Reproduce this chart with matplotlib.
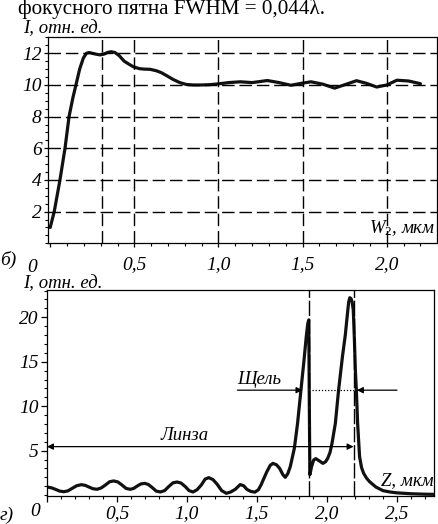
import matplotlib
matplotlib.use('Agg')
import matplotlib.pyplot as plt
from matplotlib.ticker import MultipleLocator

# данные: верхний график (б)
w2 = [0.0, 0.024, 0.058, 0.088, 0.112, 0.135, 0.153, 0.175, 0.197, 0.215,
      0.232, 0.25, 0.27, 0.296, 0.32, 0.34, 0.361, 0.385, 0.41, 0.44,
      0.47, 0.494, 0.53, 0.56, 0.593, 0.63, 0.66, 0.69, 0.73, 0.77,
      0.81, 0.85, 0.9, 0.95, 1.0, 1.06, 1.13, 1.2, 1.29, 1.36,
      1.43, 1.49, 1.55, 1.62, 1.69, 1.76, 1.82, 1.88, 1.94, 2.0,
      2.06, 2.13, 2.2]
i_w2 = [1.0, 2.0, 4.0, 6.0, 8.0, 9.2, 10.0, 11.0, 11.7, 12.0,
        12.05, 12.0, 11.95, 11.9, 11.95, 12.05, 12.1, 12.05, 11.85, 11.5,
        11.3, 11.15, 11.03, 11.0, 10.99, 10.9, 10.78, 10.6, 10.35, 10.15,
        10.03, 10.0, 10.0, 10.02, 10.07, 10.15, 10.2, 10.15, 10.28, 10.15,
        9.98, 10.1, 10.2, 10.05, 9.8, 10.05, 10.27, 10.1, 9.87, 10.0,
        10.3, 10.25, 10.08]

# данные: нижний график (г)
z = [0.0, 0.012, 0.035, 0.06, 0.09, 0.119, 0.149, 0.179, 0.212, 0.245,
     0.272, 0.298, 0.327, 0.357, 0.387, 0.417, 0.447, 0.476, 0.506, 0.536,
     0.565, 0.595, 0.619, 0.643, 0.67, 0.697, 0.723, 0.75, 0.78, 0.81,
     0.84, 0.869, 0.9, 0.929, 0.958, 0.988, 1.015, 1.043, 1.072, 1.102,
     1.13, 1.155, 1.185, 1.214, 1.248, 1.281, 1.313, 1.345, 1.38, 1.405,
     1.428, 1.455, 1.485, 1.51, 1.529, 1.55, 1.571, 1.595, 1.614, 1.64,
     1.662, 1.685, 1.702, 1.72, 1.738, 1.752, 1.767, 1.79, 1.814, 1.835,
     1.852, 1.863, 1.87, 1.874, 1.878, 1.89, 1.905, 1.92, 1.945, 1.971,
     1.99, 2.005, 2.022, 2.036, 2.06, 2.083, 2.11, 2.131, 2.145, 2.155,
     2.163, 2.172, 2.18, 2.188, 2.196, 2.203, 2.21, 2.219, 2.233, 2.247,
     2.262, 2.283, 2.305, 2.35, 2.4, 2.45, 2.5, 2.6, 2.7, 2.77]
i_z = [0.9, 0.88, 0.8, 0.65, 0.45, 0.38, 0.47, 0.75, 1.05, 1.17,
       1.1, 0.92, 0.72, 0.65, 0.8, 1.13, 1.5, 1.59, 1.48, 1.13,
       0.75, 0.65, 0.75, 1.0, 1.25, 1.32, 1.2, 0.87, 0.45, 0.35,
       0.5, 0.95, 1.38, 1.47, 1.35, 0.95, 0.5, 0.35, 0.6, 1.13,
       1.8, 1.96, 1.75, 1.25, 0.5, 0.2, 0.35, 0.65, 1.18, 1.05,
       0.64, 0.42, 0.33, 0.6, 1.14, 1.9, 2.64, 3.35, 3.57, 3.4,
       3.0, 2.3, 2.0, 2.4, 3.2, 4.2, 5.26, 8.07, 11.8, 15.0,
       17.8, 19.3, 19.7, 10.0, 2.3, 3.2, 3.95, 4.1, 3.85, 3.57,
       3.75, 4.12, 4.8, 5.82, 8.07, 11.8, 15.5, 18.0, 20.2, 21.7,
       22.2, 22.1, 21.7, 20.8, 17.5, 14.0, 11.8, 8.07, 4.32, 3.1,
       2.45, 1.9, 1.5, 0.9, 0.5, 0.35, 0.25, 0.15, 0.1, 0.08]

w2_ticks = [0, 0.5, 1.0, 1.5, 2.0]
w2_labels = ['', '0,5', '1,0', '1,5', '2,0']
iw_ticks = [2, 4, 6, 8, 10, 12]
z_ticks = [0, 0.5, 1.0, 1.5, 2.0, 2.5]
z_labels = ['', '0,5', '1,0', '1,5', '2,0', '2,5']
iz_ticks = [5, 10, 15, 20]
w2_mark = 0.31          # доп. вертикальная линия
lens_end = 2.19         # граница линзы
slit_start = 1.87       # начало щели

serif = ['Liberation Serif', 'DejaVu Serif']
plt.rcParams['font.family'] = serif
plt.rcParams['mathtext.fontset'] = 'custom'
plt.rcParams['mathtext.it'] = 'Liberation Serif:italic'
plt.rcParams['mathtext.rm'] = 'Liberation Serif'

fig = plt.figure(figsize=(4.38, 5.24), dpi=100)

tick_font = dict(family=serif, style='italic', size=14)
lab_font = dict(family=serif, style='italic', size=13.5)


def style_axes(ax, xpad, ypad, ticklen):
    for s in ax.spines.values():
        s.set_linewidth(0.9)
    ax.tick_params(axis='x', which='major', direction='out', length=ticklen, width=0.9, pad=xpad)
    ax.tick_params(axis='y', which='major', direction='out', length=ticklen, width=0.9, pad=ypad)
    ax.tick_params(which='minor', direction='out', length=2.2, width=0.8)
    for lab in ax.get_xticklabels() + ax.get_yticklabels():
        lab.set_fontproperties(dict(family=serif, style='italic', size=14))


# ---- верхний график ----
ax1 = fig.add_axes([0.1096, 0.5357, 0.888, 0.3943])
ax1.plot(w2, i_w2, color='#111111', lw=2.3, solid_capstyle='round', solid_joinstyle='round')
ax1.set_xlim(-0.013, 2.298)
ax1.set_ylim(0.0, 13.05)
ax1.set_xticks(w2_ticks)
ax1.set_xticklabels(w2_labels)
ax1.set_yticks(iw_ticks)
ax1.xaxis.set_minor_locator(MultipleLocator(0.1))
ax1.yaxis.set_minor_locator(MultipleLocator(0.5))
for yv in iw_ticks:
    ax1.axhline(yv, color='black', lw=1.0, dashes=(9, 3.5))
for xv in [w2_mark] + w2_ticks[1:]:
    ax1.axvline(xv, color='black', lw=1.0, dashes=(9, 3.5))
style_axes(ax1, xpad=6, ypad=1.5, ticklen=3)
ax1.text(-0.041, -0.075, '0', transform=ax1.transAxes, ha='center', va='top', **tick_font)
ax1.text(0.995, 0.025, '$W_2$, мкм', transform=ax1.transAxes, ha='right', va='bottom',
         family=serif, style='italic', size=13.5)
fig.text(0.052, 0.937, 'I, отн. ед.', ha='left', va='baseline', **lab_font)
fig.text(0.0, 0.503, 'б)', ha='left', va='center', **tick_font)

# ---- нижний график ----
ax2 = fig.add_axes([0.1073, 0.054, 0.884, 0.3926])
ax2.plot(z, i_z, color='#111111', lw=2.3, solid_capstyle='round', solid_joinstyle='round')
ax2.set_xlim(0, 2.766)
ax2.set_ylim(-0.07, 23.07)
ax2.set_xticks(z_ticks)
ax2.set_xticklabels(z_labels)
ax2.set_yticks(iz_ticks)
ax2.xaxis.set_minor_locator(MultipleLocator(0.1))
ax2.yaxis.set_minor_locator(MultipleLocator(1))
for xv in [slit_start, lens_end]:
    ax2.axvline(xv, color='black', lw=1.0, dashes=(11, 2))
style_axes(ax2, xpad=2, ypad=1.5, ticklen=4.5)
ax2.text(-0.031, -0.035, '0', transform=ax2.transAxes, ha='center', va='top', **tick_font)
ax2.text(0.998, 0.03, 'Z, мкм', transform=ax2.transAxes, ha='right', va='bottom',
         family=serif, style='italic', size=13.5)

# стрелка "Линза"
ax2.annotate('', xy=(0.0, 5.45), xytext=(lens_end, 5.45),
             arrowprops=dict(arrowstyle='<|-|>', color='black', lw=0.9,
                             mutation_scale=9, shrinkA=0, shrinkB=0))
ax2.text(0.98, 5.75, 'Линза', ha='center', va='bottom', **lab_font)

# стрелки "Щель"
ax2.annotate('', xy=(1.825, 11.8), xytext=(1.36, 11.8),
             arrowprops=dict(arrowstyle='-|>', color='black', lw=0.9,
                             mutation_scale=9, shrinkA=0, shrinkB=0))
ax2.annotate('', xy=(2.214, 11.8), xytext=(2.5, 11.8),
             arrowprops=dict(arrowstyle='-|>', color='black', lw=0.9,
                             mutation_scale=9, shrinkA=0, shrinkB=0))
ax2.plot([1.89, 2.2], [11.8, 11.8], color='black', lw=0.9, ls=(0, (1, 1.5)))
ax2.text(1.516, 12.0, 'Щель', ha='center', va='bottom', **lab_font)

fig.text(0.052, 0.450, 'I, отн. ед.', ha='left', va='baseline', **lab_font)
fig.text(0.0, 0.017, 'г)', ha='left', va='center', **tick_font)

# подпись сверху (обрезанная строка)
fig.text(0.041, 0.973, 'фокусного пятна FWHM = 0,044λ.', ha='left', va='baseline',
         family=serif, size=15.2)

fig.savefig('out.png', dpi=100)
